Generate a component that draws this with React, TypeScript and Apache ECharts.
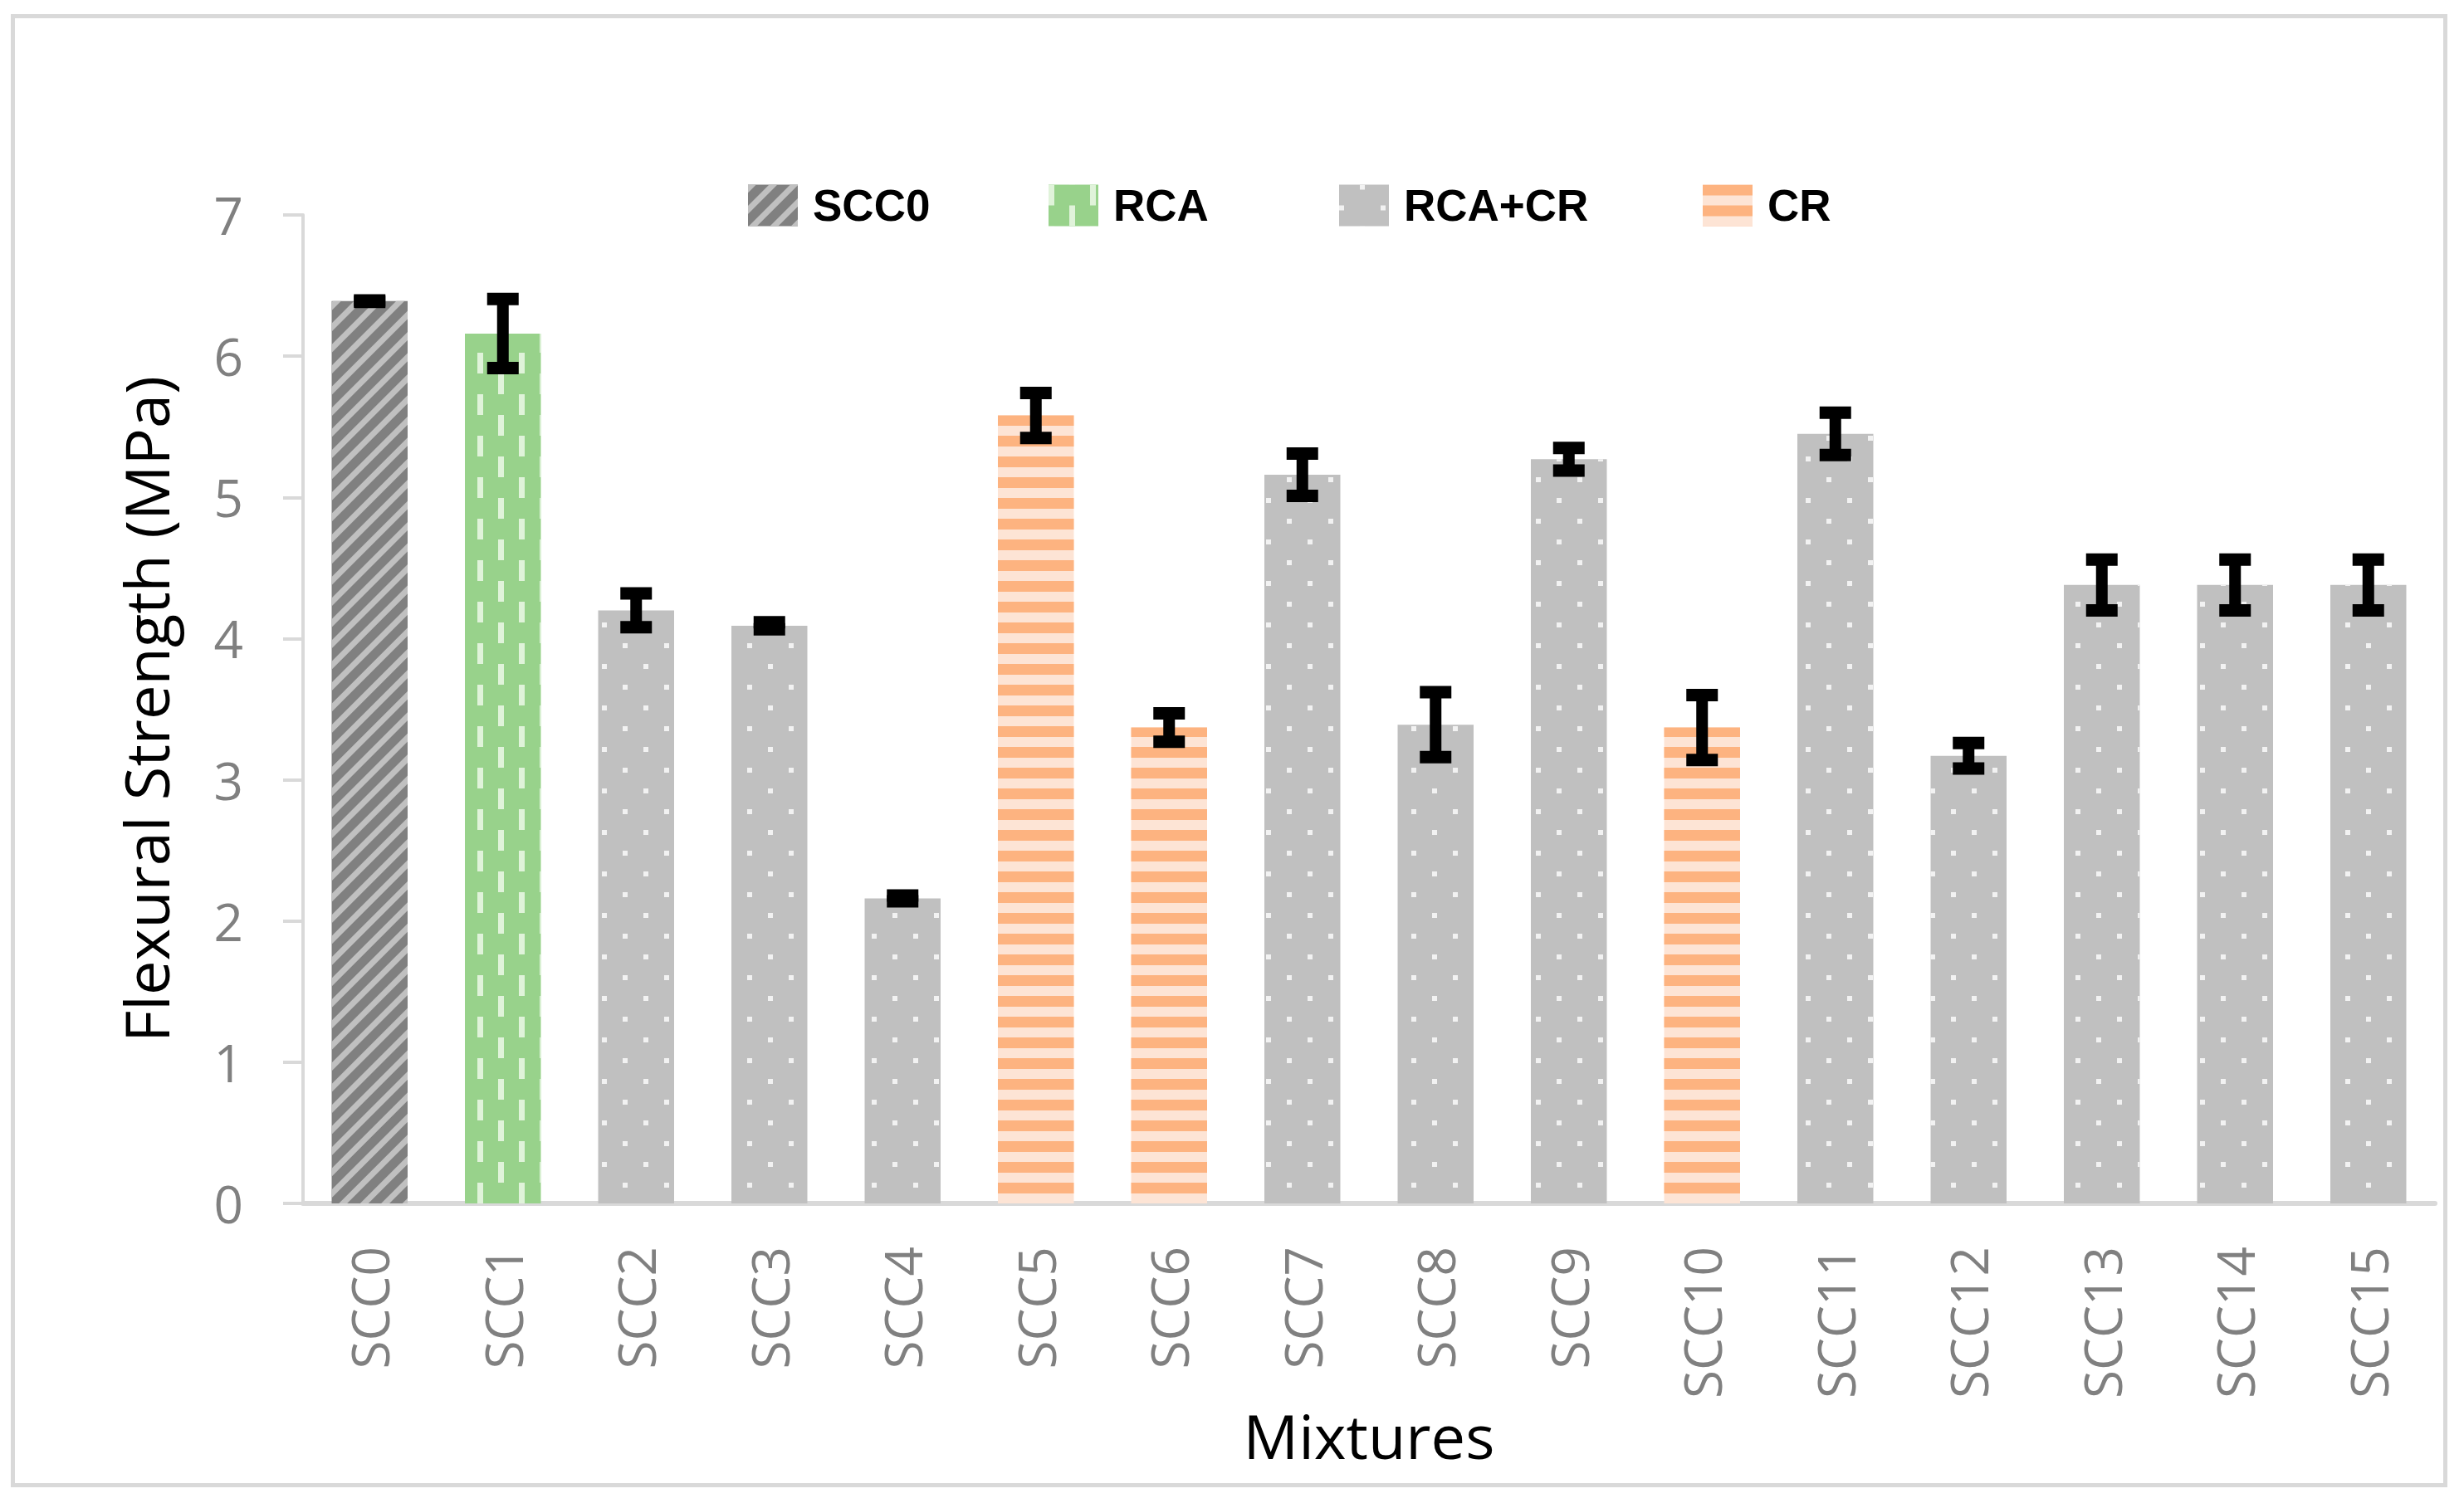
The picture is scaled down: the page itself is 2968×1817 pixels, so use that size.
import { useEffect, useRef } from 'react'
import * as echarts from 'echarts'

const categories = [
  'SCC0', 'SCC1', 'SCC2', 'SCC3', 'SCC4', 'SCC5', 'SCC6', 'SCC7',
  'SCC8', 'SCC9', 'SCC10', 'SCC11', 'SCC12', 'SCC13', 'SCC14', 'SCC15',
]
const strength = [6.39, 6.16, 4.2, 4.09, 2.16, 5.58, 3.37, 5.16, 3.39, 5.27, 3.37, 5.45, 3.17, 4.38, 4.38, 4.38]
const errors = [0.005, 0.245, 0.12, 0.025, 0.02, 0.16, 0.1, 0.15, 0.23, 0.08, 0.23, 0.15, 0.09, 0.18, 0.18, 0.18]
const groups = [
  'SCC0', 'RCA', 'RCA+CR', 'RCA+CR', 'RCA+CR', 'CR', 'CR', 'RCA+CR',
  'RCA+CR', 'RCA+CR', 'CR', 'RCA+CR', 'RCA+CR', 'RCA+CR', 'RCA+CR', 'RCA+CR',
]
const groupNames = ['SCC0', 'RCA', 'RCA+CR', 'CR']
const yMin = 0
const yMax = 7

const styles: Record<string, any> = {
  SCC0: {
    color: '#808080',
    decal: {
      symbol: 'rect', symbolSize: 1, symbolKeepAspect: false, color: '#c0c0c0',
      dashArrayX: [1, 0], dashArrayY: [7, 11], rotation: -Math.PI / 4,
    },
  },
  RCA: {
    color: '#98d28b',
    decal: {
      symbol: 'rect', symbolSize: 1, symbolKeepAspect: false, color: '#e0f3da',
      dashArrayX: [[7, 43], [0, 25, 7, 18]], dashArrayY: [25, 0, 25, 0],
    },
  },
  'RCA+CR': {
    color: '#c0c0c0',
    decal: {
      symbol: 'rect', symbolSize: 1, symbolKeepAspect: false, color: '#f2f2f2',
      dashArrayX: [[6, 44], [0, 25, 6, 19]], dashArrayY: [6, 19],
    },
  },
  CR: {
    color: '#fde4d5',
    decal: {
      symbol: 'rect', symbolSize: 1, symbolKeepAspect: false, color: '#fdb380',
      dashArrayX: [1, 0], dashArrayY: [13, 12],
    },
  },
}

const legendLeft = [901, 1263, 1613, 2051]

export default function App() {
  const chartRef = useRef<HTMLDivElement>(null)

  useEffect(() => {
    if (!chartRef.current) return
    document.body.style.margin = '0'
    const chart = echarts.init(chartRef.current, null, { renderer: 'svg' })

    const barSeries = groupNames.map((name) => ({
      name,
      type: 'bar',
      stack: 'all',
      barCategoryGap: '43%',
      itemStyle: styles[name],
      data: strength.map((v, i) => (groups[i] === name ? v : '-')),
    }))

    chart.setOption({
      animation: false,
      backgroundColor: '#ffffff',
      graphic: [
        {
          type: 'rect',
          shape: { x: 15.5, y: 19.5, width: 2930, height: 1770 },
          style: { fill: 'none', stroke: '#d9d9d9', lineWidth: 5 },
          silent: true,
        },
      ],
      legend: groupNames.map((name, i) => ({
        data: [name],
        left: legendLeft[i],
        top: 221,
        padding: 0,
        icon: 'rect',
        itemWidth: 60,
        itemHeight: 50,
        selectedMode: false,
        textStyle: {
          fontFamily: 'Liberation Sans',
          fontWeight: 'bold',
          fontSize: 53,
          color: '#000000',
          padding: [0, 0, 0, 13],
        },
      })),
      grid: { left: 365, right: 35, top: 259, bottom: 367 },
      xAxis: {
        type: 'category',
        data: categories,
        name: 'Mixtures',
        nameLocation: 'middle',
        nameGap: 240,
        nameTextStyle: { fontFamily: 'Open Sans', fontSize: 74, color: '#000000' },
        axisLine: { lineStyle: { color: '#d9d9d9', width: 6 } },
        axisTick: { show: false },
        axisLabel: {
          rotate: 90,
          margin: 52,
          fontFamily: 'Open Sans',
          fontSize: 62,
          color: '#808080',
        },
      },
      yAxis: {
        type: 'value',
        min: yMin,
        max: yMax,
        interval: 1,
        name: 'Flexural Strength (MPa)',
        nameLocation: 'middle',
        nameGap: 153,
        nameTextStyle: { fontFamily: 'Open Sans', fontSize: 74, color: '#000000' },
        axisLine: { show: true, lineStyle: { color: '#d9d9d9', width: 4 } },
        axisTick: { show: true, length: 24, lineStyle: { color: '#d9d9d9', width: 4 } },
        splitLine: { show: false },
        axisLabel: {
          margin: 72,
          fontFamily: 'Open Sans',
          fontSize: 62,
          color: '#808080',
        },
      },
      series: [
        ...barSeries,
        {
          name: 'error',
          type: 'custom',
          z: 10,
          encode: { x: 0, y: 1 },
          data: strength.map((v, i) => [i, v, errors[i]]),
          renderItem: (_params: any, api: any) => {
            const idx = api.value(0)
            const v = api.value(1)
            const e = api.value(2)
            const x = api.coord([idx, v])[0]
            const hi = api.coord([idx, v + e])[1]
            const lo = api.coord([idx, v - e])[1]
            const fill = { fill: '#000000' }
            return {
              type: 'group',
              children: [
                { type: 'rect', shape: { x: x - 7, y: hi, width: 14, height: lo - hi }, style: fill },
                { type: 'rect', shape: { x: x - 19, y: hi - 7.5, width: 38, height: 15 }, style: fill },
                { type: 'rect', shape: { x: x - 19, y: lo - 7.5, width: 38, height: 15 }, style: fill },
              ],
            }
          },
        },
      ],
    })

    return () => {
      chart.dispose()
    }
  }, [])

  return <div ref={chartRef} style={{ width: '2968px', height: '1817px' }}></div>
}
